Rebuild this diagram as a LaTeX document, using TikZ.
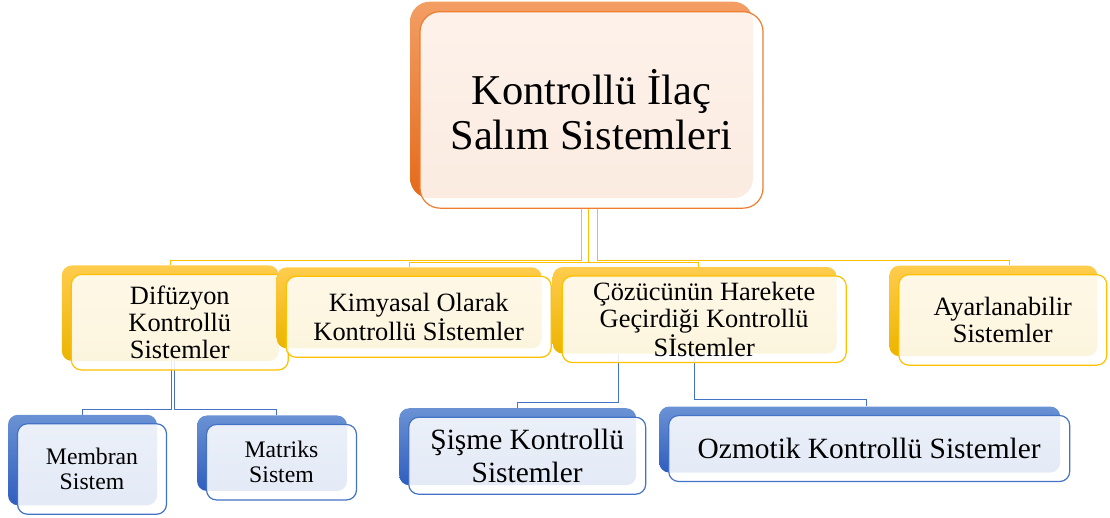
\documentclass[tikz,border=0pt]{standalone}
\usepackage{fontspec}
\setmainfont{Liberation Serif}
\usetikzlibrary{
    positioning,
    calc,
    backgrounds
}
\definecolor{TopLine}{RGB}{237,125,49}
\definecolor{TopLight}{RGB}{243,158,100}
\definecolor{TopDark}{RGB}{228,106,26}
\definecolor{GoldLine}{RGB}{255,192,0}
\definecolor{GoldLight}{RGB}{255,204,78}
\definecolor{GoldDark}{RGB}{236,180,0}
\definecolor{BlueLine}{RGB}{68,114,196}
\definecolor{BlueLight}{RGB}{106,146,212}
\definecolor{BlueDark}{RGB}{48,94,190}
\tikzset{
  boxsize/.style 2 args = {minimum width=#1, minimum height=#2},
  back/.style    = {rounded corners=10pt, inner sep=0pt},
  front/.style   = {draw, rounded corners=10pt, inner sep=0pt, line width=1.2pt,
                    fill=white, fill opacity=0.87, text opacity=1, align=center},
  topback/.style = {back, rounded corners=20pt, top color=TopLight, bottom color=TopDark},
  topfront/.style= {front, rounded corners=20pt, draw=TopLine,
                    font=\fontsize{42.5}{45}\selectfont},
  midback/.style = {back, top color=GoldLight, bottom color=GoldDark},
  midfront/.style= {front, draw=GoldLine, font=\fontsize{26.4}{27.3}\selectfont},
  lowback/.style = {back, top color=BlueLight, bottom color=BlueDark},
  lowfront/.style= {front, draw=BlueLine, font=\fontsize{29.4}{32.7}\selectfont},
  smallfront/.style = {lowfront, font=\fontsize{23.7}{25}\selectfont},
  yline/.style   = {GoldLine, line width=1pt},
  bline/.style   = {BlueLine, line width=1pt}
}

\begin{document}
\begin{tikzpicture}[x=1pt,y=-1pt]
\useasboundingbox (0,0) rectangle (1110,517);
% top
\node[topback, boxsize={343}{196.5}] (topbg) at (581.5,99.9) {};
\node[topfront, boxsize={343}{196.5}] (top) at ($(topbg)+(10,10)$)
     {Kontrollü İlaç\\Salım Sistemleri};
% second row
\node[midback, boxsize={217}{95.5}] (difbg) at (170.3,313.2) {};
\node[midfront, boxsize={217}{95.5}] (dif) at ($(difbg)+(9.5,9)$)
     {Difüzyon\\Kontrollü\\Sistemler};
\node[midback, boxsize={265}{81}] (kimbg) at (409.2,307.8) {};
\node[midfront, boxsize={265}{81}] (kim) at ($(kimbg)+(9.5,9)$)
     {Kimyasal Olarak\\Kontrollü Sİstemler};
\node[midback, boxsize={284}{86.5}] (cozbg) at (694.7,310.3) {};
\node[midfront, boxsize={284}{86.5}] (coz) at ($(cozbg)+(9.5,9)$)
     {Çözücünün Harekete\\Geçirdiği Kontrollü\\Sİstemler};
\node[midback, boxsize={208}{90.5}] (ayarbg) at (993.3,310.9) {};
\node[midfront, boxsize={208}{90.5}] (ayar) at ($(ayarbg)+(9.5,9)$)
     {Ayarlanabilir\\Sistemler};
% third row
\node[lowback, boxsize={149}{90.5}] (membg) at (82.5,460) {};
\node[smallfront, boxsize={149}{90.5}] (mem) at ($(membg)+(9.5,9)$)
     {Membran\\Sistem};
\node[lowback, boxsize={150}{75.5}] (matbg) at (272,453.2) {};
\node[smallfront, boxsize={150}{75.5}] (mat) at ($(matbg)+(9.5,9)$)
     {Matriks\\Sistem};
\node[lowback, boxsize={237}{77}] (sisbg) at (517.7,446.7) {};
\node[lowfront, boxsize={237}{77}] (sis) at ($(sisbg)+(9.5,9)$)
     {Şişme Kontrollü\\Sistemler};
\node[lowback, boxsize={401}{66}] (ozmbg) at (859.7,439.5) {};
\node[lowfront, boxsize={401}{66}] (ozm) at ($(ozmbg)+(9.5,9)$)
     {Ozmotik Kontrollü Sistemler};
% connectors
\begin{scope}[on background layer]
\draw[yline] ($(top.south)+(-10,0)$) -- ++(0,51.5) -| (difbg.north);
\draw[yline] ($(top.south)+(-3,0)$) -- ++(0,53.5) -| (kimbg.north);
\draw[yline] ($(top.south)+(-3,0)$) -- ++(0,53.5) -| ($(cozbg.north)+(4,0)$);
\draw[yline] ($(top.south)+(6,0)$) -- ++(0,51.5) -| ($(ayarbg.north)+(16,0)$);
\draw[bline] ($(difbg.south)+(1.5,0)$) -- ++(0,48.3) -| (membg.north);
\draw[bline] ($(difbg.south)+(3.7,0)$) -- ++(0,48.3) -| ($(matbg.north)+(4,0)$);
\draw[bline] ($(cozbg.south)+(-76.4,0)$) -- ++(0,48.4) -| (sisbg.north);
\draw[bline] (cozbg.south) -- ++(0,46) -| ($(ozmbg.north)+(7,0)$);
\end{scope}
\end{tikzpicture}
\end{document}
